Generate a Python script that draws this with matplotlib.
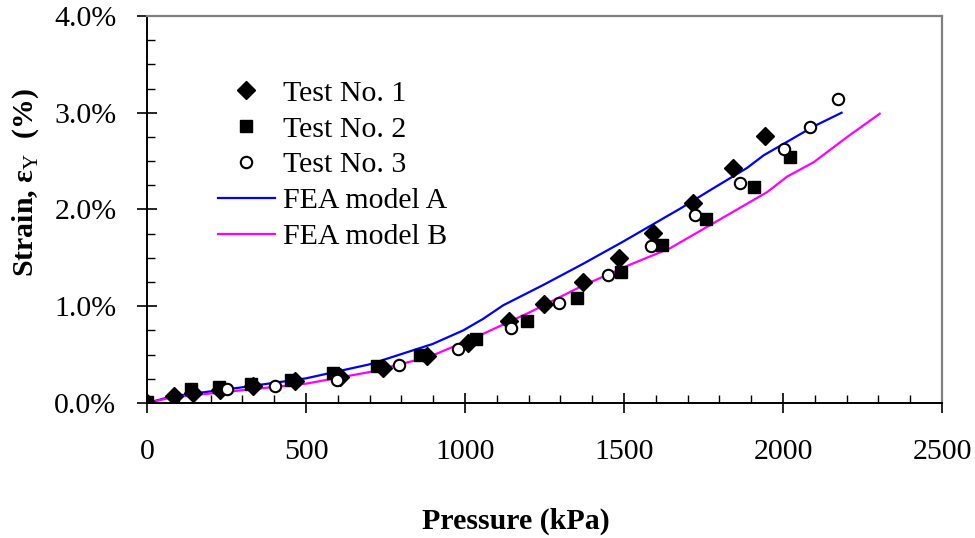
import matplotlib.pyplot as plt
import numpy as np
from matplotlib.ticker import MultipleLocator, FuncFormatter

plt.rcParams['font.family'] = ['Liberation Serif', 'DejaVu Serif']
plt.rcParams['mathtext.fontset'] = 'custom'
plt.rcParams['mathtext.rm'] = 'Liberation Serif'

# test data (pressure kPa, strain %)
p1 = [0, 84, 144, 228, 333, 464, 606, 741, 881, 1010, 1138, 1249, 1370, 1483, 1591, 1716, 1842, 1944]
s1 = [0.00, 0.07, 0.10, 0.13, 0.18, 0.23, 0.27, 0.36, 0.49, 0.62, 0.85, 1.02, 1.25, 1.50, 1.76, 2.07, 2.43, 2.76]

p2 = [0, 139, 225, 328, 454, 585, 724, 858, 1033, 1196, 1353, 1491, 1619, 1758, 1908, 2021]
s2 = [0.01, 0.15, 0.17, 0.20, 0.24, 0.31, 0.38, 0.50, 0.66, 0.85, 1.09, 1.35, 1.63, 1.90, 2.23, 2.54]

p3 = [251, 401, 598, 793, 977, 1146, 1297, 1448, 1586, 1724, 1864, 2002, 2084, 2172]
s3 = [0.14, 0.18, 0.24, 0.39, 0.56, 0.78, 1.03, 1.32, 1.62, 1.94, 2.27, 2.63, 2.85, 3.14]

# FEA curves
pa = [0, 81, 294, 500, 700, 898, 994, 1057, 1120, 1246, 1372, 1498, 1677, 1771, 1887, 1939, 2013, 2097, 2184]
sa = [0.00, 0.07, 0.16, 0.255, 0.40, 0.61, 0.75, 0.87, 1.01, 1.22, 1.44, 1.67, 2.01, 2.20, 2.43, 2.56, 2.70, 2.86, 3.00]

pb = [0, 81, 294, 500, 700, 890, 1047, 1205, 1362, 1519, 1645, 1782, 1950, 2013, 2097, 2202, 2304]
sb = [0.00, 0.06, 0.13, 0.20, 0.32, 0.48, 0.70, 0.94, 1.20, 1.43, 1.60, 1.86, 2.18, 2.34, 2.49, 2.75, 2.99]

fig = plt.figure(figsize=(9.75, 5.38), dpi=100)
ax = fig.add_axes([0.1508, 0.2509, 0.8154, 0.7194])

ax.plot(pa, sa, color='#0000FF', lw=1.6, label='FEA model A', zorder=2)
ax.plot(pb, sb, color='#FF00FF', lw=1.6, label='FEA model B', zorder=2)
ax.plot(p1, s1, ls='none', marker='D', ms=9.5, color='black', label='Test No. 1', zorder=3)
ax.plot(p2, s2, ls='none', marker='s', ms=9, color='black', label='Test No. 2', zorder=3)
ax.plot(p3, s3, ls='none', marker='o', ms=8.2, mfc='white', mec='black', mew=1.5,
        label='Test No. 3', zorder=3)

ax.set_xlim(0, 2500)
ax.set_ylim(0, 4.0)
ax.xaxis.set_major_locator(MultipleLocator(500))
ax.xaxis.set_minor_locator(MultipleLocator(100))
ax.yaxis.set_major_locator(MultipleLocator(1.0))
ax.yaxis.set_minor_locator(MultipleLocator(0.25))
ax.yaxis.set_major_formatter(FuncFormatter(lambda v, pos: '%.1f%%' % v))

ax.tick_params(which='major', direction='inout', length=14, width=1.2, labelsize=21.5)
ax.tick_params(axis='x', which='major', pad=19)
ax.tick_params(axis='y', which='major', pad=15)
ax.tick_params(which='minor', direction='in', length=6, width=1.0)

for s in ['left', 'bottom']:
    ax.spines[s].set_color('black')
    ax.spines[s].set_linewidth(1.4)
for s in ['top', 'right']:
    ax.spines[s].set_color('#808080')
    ax.spines[s].set_linewidth(1.6)

ax.set_xlabel('Pressure (kPa)', fontsize=21.5, fontweight='bold')
ax.xaxis.set_label_coords(0.464, -0.27)
ax.set_ylabel('Strain, ε$_\\mathrm{Y}$  (%)', fontsize=21.5, fontweight='bold')
ax.yaxis.set_label_coords(-0.133, 0.571)

h, l = ax.get_legend_handles_labels()
order = [2, 3, 4, 0, 1]
ax.legend([h[i] for i in order], [l[i] for i in order], loc='upper left',
          bbox_to_anchor=(0.089, 0.835), frameon=False, fontsize=21.5,
          borderpad=0, borderaxespad=0, labelspacing=0.3,
          handlelength=1.9, handletextpad=0.3)

fig.savefig('out.png', dpi=100)
